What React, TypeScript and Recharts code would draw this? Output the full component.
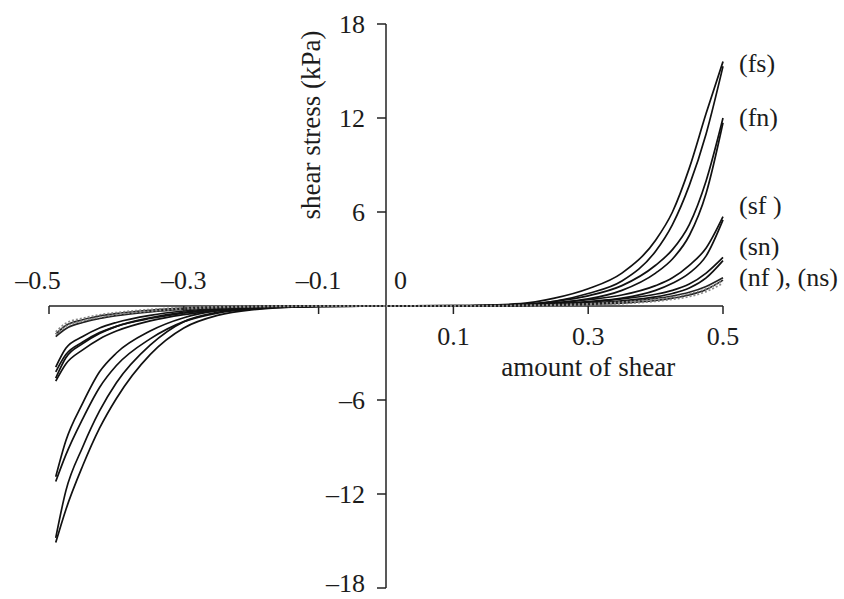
import React from "react";
import { LineChart, Line, XAxis, YAxis, ReferenceLine, ReferenceDot } from "recharts";

// amount of shear along each branch of a loop
const POS_SHEAR = [0, 0.1, 0.2, 0.25, 0.3, 0.35, 0.4, 0.425, 0.45, 0.475, 0.5];
const NEG_SHEAR = [0, -0.1, -0.2, -0.25, -0.3, -0.35, -0.4, -0.425, -0.45, -0.475, -0.49];

const X_TICKS = [-0.5, -0.3, -0.1, 0.1, 0.3, 0.5];
const Y_TICKS = [18, 12, 6, -6, -12, -18];

// shear stress (kPa) for each specimen
const fsUp = [0, 0.02, 0.15, 0.5, 1.1, 2.1, 4.2, 6.0, 8.8, 12.3, 15.6];
const fsDown = [0, 0, 0.08, 0.3, 0.8, 1.6, 3.5, 5.2, 7.7, 11.0, 15.3];
const fsOut = [0, -0.03, -0.25, -0.6, -1.4, -3.1, -5.9, -7.8, -10.2, -13.0, -15.1];
const fsBack = [0, -0.01, -0.15, -0.4, -1.0, -2.5, -4.9, -6.7, -9.0, -11.8, -14.8];

const fnUp = [0, 0.02, 0.1, 0.3, 0.65, 1.3, 2.6, 3.6, 5.2, 8.0, 12.0];
const fnDown = [0, 0, 0.05, 0.2, 0.45, 1.0, 2.1, 3.0, 4.5, 7.2, 11.7];
const fnOut = [0, -0.03, -0.2, -0.45, -1.0, -2.1, -3.8, -5.2, -7.2, -9.5, -11.2];
const fnBack = [0, -0.01, -0.12, -0.3, -0.75, -1.6, -3.0, -4.2, -6.2, -8.6, -10.9];

const sfUp = [0, 0.01, 0.08, 0.2, 0.4, 0.7, 1.3, 1.8, 2.6, 3.7, 5.7];
const sfDown = [0, 0, 0.04, 0.12, 0.28, 0.5, 1.0, 1.45, 2.1, 3.2, 5.5];
const sfOut = [0, -0.02, -0.12, -0.3, -0.55, -0.95, -1.6, -2.1, -2.8, -3.7, -4.8];
const sfBack = [0, -0.01, -0.07, -0.2, -0.4, -0.75, -1.3, -1.75, -2.4, -3.3, -4.6];

const snUp = [0, 0.01, 0.06, 0.14, 0.25, 0.45, 0.75, 1.0, 1.4, 2.1, 3.1];
const snDown = [0, 0, 0.03, 0.08, 0.17, 0.33, 0.58, 0.8, 1.15, 1.8, 2.9];
const snOut = [0, -0.02, -0.1, -0.25, -0.45, -0.8, -1.3, -1.7, -2.3, -3.1, -4.2];
const snBack = [0, -0.01, -0.06, -0.16, -0.32, -0.6, -1.05, -1.4, -1.95, -2.7, -3.9];

const nfUp = [0, 0.01, 0.04, 0.09, 0.16, 0.28, 0.48, 0.64, 0.88, 1.25, 1.8];
const nfDown = [0, 0, 0.02, 0.05, 0.1, 0.18, 0.35, 0.5, 0.7, 1.05, 1.65];
const nfOut = [0, -0.01, -0.06, -0.12, -0.22, -0.38, -0.62, -0.8, -1.05, -1.45, -1.95];
const nfBack = [0, 0, -0.03, -0.07, -0.14, -0.27, -0.48, -0.64, -0.88, -1.25, -1.8];

const nsUp = [0, 0.01, 0.04, 0.08, 0.14, 0.25, 0.42, 0.56, 0.78, 1.1, 1.6];
const nsDown = [0, 0, 0.02, 0.04, 0.08, 0.15, 0.3, 0.42, 0.6, 0.92, 1.45];
const nsOut = [0, -0.01, -0.05, -0.1, -0.19, -0.33, -0.55, -0.72, -0.95, -1.3, -1.8];
const nsBack = [0, 0, -0.02, -0.05, -0.11, -0.22, -0.42, -0.56, -0.78, -1.1, -1.65];

// curve labels on the right, stress where the text sits
const LABELS = [
  { text: "(fs)", y: 15.45 },
  { text: "(fn)", y: 12.0 },
  { text: "(sf )", y: 6.4 },
  { text: "(sn)", y: 3.75 },
  { text: "(nf ), (ns)", y: 1.8 },
];

// one branch, sorted by shear so a monotone curve can be used
function branch(xs: number[], ys: number[]) {
  return xs.map((x, i) => ({ x, y: ys[i] })).sort((a, b) => a.x - b.x);
}

const specimens = [
  { key: "fs", b: [fsUp, fsDown, fsOut, fsBack], color: "#111" },
  { key: "fn", b: [fnUp, fnDown, fnOut, fnBack], color: "#111" },
  { key: "sf", b: [sfUp, sfDown, sfOut, sfBack], color: "#111" },
  { key: "sn", b: [snUp, snDown, snOut, snBack], color: "#111" },
  { key: "nf", b: [nfUp, nfDown, nfOut, nfBack], color: "#222" },
  { key: "ns", b: [nsUp, nsDown, nsOut, nsBack], color: "#8a8a8a", dash: "2 2" },
];

const branches = specimens.flatMap((s) =>
  s.b.map((ys, i) => ({
    key: s.key + i,
    data: branch(i < 2 ? POS_SHEAR : NEG_SHEAR, ys),
    color: s.color,
    dash: s.dash,
  }))
);

const FONT = "'Liberation Serif', 'DejaVu Serif', serif";
const TEXT = "#1c1c1c";
const FS = 26;

const fmt = (v: number) => (v < 0 ? "\u2013" + String(Math.abs(v)) : String(v));

export default function App() {
  return (
    <div style={{ position: "absolute", left: 0, top: 0, background: "#fff" }}>
      <LineChart width={844} height={599} margin={{ top: 24, right: 121, left: 49, bottom: 11 }}>
        <XAxis type="number" dataKey="x" domain={[-0.5, 0.5]} hide />
        <YAxis type="number" dataKey="y" domain={[-18, 18]} hide />
        <ReferenceLine y={0} stroke="#222" strokeWidth={1.5} />
        <ReferenceLine x={0} stroke="#222" strokeWidth={1.5} />

        {branches.map((l) => (
          <Line
            key={l.key}
            data={l.data}
            dataKey="y"
            type="monotone"
            stroke={l.color}
            strokeWidth={1.7}
            strokeDasharray={l.dash}
            dot={false}
            isAnimationActive={false}
          />
        ))}

        {X_TICKS.map((t) => (
          <ReferenceDot
            key={"xt" + t}
            x={t}
            y={0}
            r={0}
            ifOverflow="visible"
            shape={(p: any) => (
              <g>
                <line x1={p.cx} x2={p.cx} y1={p.cy} y2={p.cy + 8} stroke="#222" strokeWidth={1.5} />
                <text
                  x={p.cx + (t === -0.5 ? -11 : 0)}
                  y={t < 0 ? p.cy - 17 : p.cy + 39}
                  textAnchor="middle"
                  fontFamily={FONT}
                  fontSize={FS}
                  fill={TEXT}
                >
                  {fmt(t)}
                </text>
              </g>
            )}
          />
        ))}
        <ReferenceDot
          x={0}
          y={0}
          r={0}
          ifOverflow="visible"
          shape={(p: any) => (
            <text x={p.cx + 8} y={p.cy - 17} fontFamily={FONT} fontSize={FS} fill={TEXT}>
              0
            </text>
          )}
        />
        <ReferenceDot
          x={0.3}
          y={0}
          r={0}
          ifOverflow="visible"
          shape={(p: any) => (
            <text x={p.cx} y={p.cy + 70} textAnchor="middle" fontFamily={FONT} fontSize={27} fill={TEXT}>
              amount of shear
            </text>
          )}
        />

        {Y_TICKS.map((t) => (
          <ReferenceDot
            key={"yt" + t}
            x={0}
            y={t}
            r={0}
            ifOverflow="visible"
            shape={(p: any) => (
              <g>
                <line x1={p.cx - 9} x2={p.cx} y1={p.cy} y2={p.cy} stroke="#222" strokeWidth={1.5} />
                <text
                  x={p.cx - 21}
                  y={Math.min(p.cy + 9, 592)}
                  textAnchor="end"
                  fontFamily={FONT}
                  fontSize={FS}
                  fill={TEXT}
                >
                  {fmt(t)}
                </text>
              </g>
            )}
          />
        ))}
        <ReferenceDot
          x={0}
          y={12}
          r={0}
          ifOverflow="visible"
          shape={(p: any) => (
            <text
              x={p.cx - 66}
              y={p.cy + 7}
              transform={`rotate(-90 ${p.cx - 66} ${p.cy + 7})`}
              textAnchor="middle"
              fontFamily={FONT}
              fontSize={27}
              fill={TEXT}
            >
              shear stress (kPa)
            </text>
          )}
        />

        {LABELS.map((l) => (
          <ReferenceDot
            key={l.text}
            x={0.5}
            y={l.y}
            r={0}
            ifOverflow="visible"
            shape={(p: any) => (
              <text x={p.cx + 16} y={p.cy + 8} fontFamily={FONT} fontSize={FS} fill={TEXT}>
                {l.text}
              </text>
            )}
          />
        ))}
      </LineChart>
    </div>
  );
}
